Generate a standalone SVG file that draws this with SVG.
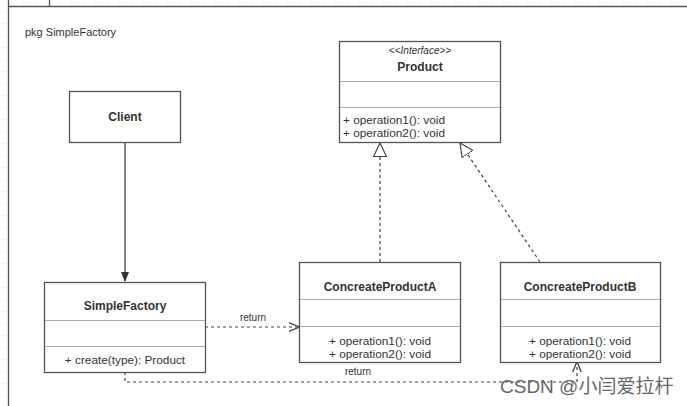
<svg xmlns="http://www.w3.org/2000/svg" width="687" height="406" viewBox="0 0 687 406">
<defs>
<pattern id="grid" width="12" height="12" patternUnits="userSpaceOnUse">
<path d="M12 0V12M0 12H12" fill="none" stroke="#eeeeee" stroke-width="1"/>
</pattern>
<marker id="fill" viewBox="0 0 10 10" refX="9" refY="5" markerWidth="10" markerHeight="10" markerUnits="userSpaceOnUse" orient="auto">
<path d="M0 1L10 5L0 9Z" fill="#333"/>
</marker>
<marker id="open" viewBox="0 0 10 10" refX="9.5" refY="5" markerWidth="11" markerHeight="11" markerUnits="userSpaceOnUse" orient="auto">
<path d="M0 1L10 5L0 9" fill="none" stroke="#444" stroke-width="1.2"/>
</marker>
<marker id="tri" viewBox="0 0 14 14" refX="13.5" refY="7" markerWidth="14" markerHeight="14" markerUnits="userSpaceOnUse" orient="auto">
<path d="M0 0.5L13.5 7L0 13.5Z" fill="#fff" stroke="#444" stroke-width="1.2"/>
</marker>
</defs>
<style>
text{font-family:"Liberation Sans",Arial,sans-serif;fill:#333}
.box{fill:#fff;stroke:#555;stroke-width:1.3}
.sep{stroke:#aaa;stroke-width:1}
.t{font-size:12px;font-weight:bold;text-anchor:middle}
.op{font-size:11.8px}
.c{text-anchor:middle}
.dash{fill:none;stroke:#444;stroke-width:1.2;stroke-dasharray:3 3}
.solid{fill:none;stroke:#444;stroke-width:1.3}
</style>
<rect width="687" height="406" fill="#fff"/>
<rect x="0" y="0" width="8" height="406" fill="url(#grid)"/>
<rect x="8" y="0" width="679" height="6" fill="url(#grid)"/>
<g id="frame">
<path d="M8.5 0V406M8 6.5H687M49.5 0V6" fill="none" stroke="#555" stroke-width="1.3"/>
<text x="25" y="36" style="font-size:11px">pkg SimpleFactory</text>
</g>
<g id="connectors">
<path class="solid" d="M125 142V281" marker-end="url(#fill)"/>
<path class="dash" d="M205 327H299" marker-end="url(#open)"/>
<text x="253" y="321" class="c" style="font-size:10px">return</text>
<path class="dash" d="M125 372V382H577V362" marker-end="url(#open)"/>
<text x="358" y="375" class="c" style="font-size:10px">return</text>
<path class="dash" d="M380 262V143" marker-end="url(#tri)"/>
<path class="dash" d="M540 262L460 143" marker-end="url(#tri)"/>
</g>
<g id="product">
<rect class="box" x="339.5" y="41.5" width="161" height="101"/>
<text x="420" y="54" class="c" style="font-size:10px;font-style:italic">&lt;&lt;Interface&gt;&gt;</text>
<text x="420" y="71" class="t">Product</text>
<path class="sep" d="M340 81.5H500M340 107.5H500"/>
<text x="343" y="124" class="op">+ operation1(): void</text>
<text x="343" y="137" class="op">+ operation2(): void</text>
</g>
<g id="client">
<rect class="box" x="69.5" y="91.5" width="111" height="51"/>
<text x="125" y="121" class="t">Client</text>
</g>
<g id="simplefactory">
<rect class="box" x="44.5" y="282.5" width="161" height="90"/>
<text x="125" y="310" class="t">SimpleFactory</text>
<path class="sep" d="M45 320.5H205M45 346.5H205"/>
<text x="125" y="364" class="op c">+ create(type): Product</text>
</g>
<g id="productA">
<rect class="box" x="299.5" y="262.5" width="161" height="100"/>
<text x="380" y="291" class="t">ConcreateProductA</text>
<path class="sep" d="M300 299.5H460M300 326.5H460"/>
<text x="380" y="345" class="op c">+ operation1(): void</text>
<text x="380" y="358" class="op c">+ operation2(): void</text>
</g>
<g id="productB">
<rect class="box" x="500.5" y="262.5" width="160" height="100"/>
<text x="580" y="291" class="t">ConcreateProductB</text>
<path class="sep" d="M501 299.5H660M501 326.5H660"/>
<text x="580" y="345" class="op c">+ operation1(): void</text>
<text x="580" y="358" class="op c">+ operation2(): void</text>
</g>
<g id="watermark">
<text x="500" y="393" style="font-size:19px;fill:#666;font-family:'Liberation Sans','Noto Sans CJK SC',sans-serif">CSDN @小闫爱拉杆</text>
</g>
</svg>
